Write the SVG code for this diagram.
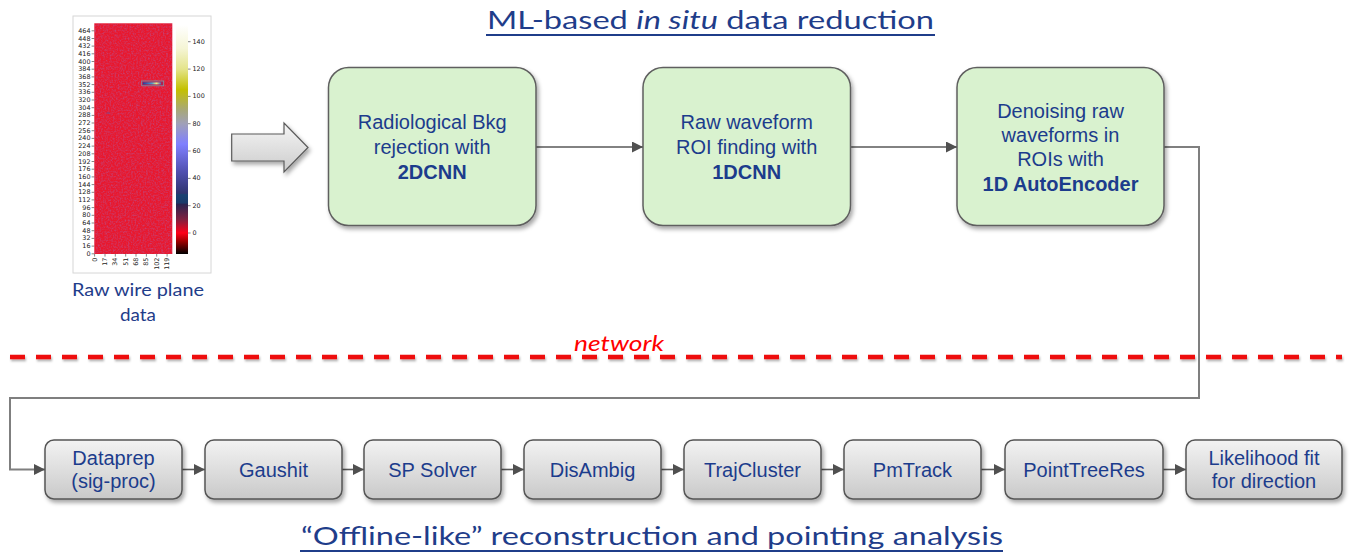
<svg xmlns="http://www.w3.org/2000/svg" width="1351" height="560" viewBox="0 0 1351 560">
<style>
.title{font-family:Lato,"Liberation Sans",sans-serif;font-size:25.5px;fill:#1f3d8a}
.lbl{font-family:Lato,"Liberation Sans",sans-serif;font-size:18px;fill:#1f3d8a}
.bt{font-family:"Liberation Sans",Arial,sans-serif;font-size:20px;fill:#1c3c8c;text-anchor:middle}
.bold{font-weight:bold}
.green{fill:#d9f2cf;stroke:#5f5f5f;stroke-width:1.5}
.grey{fill:url(#gg);stroke:#555;stroke-width:1.5}
.conn{fill:none;stroke:#595959;stroke-width:1.6}
.loop{fill:none;stroke:#7f7f7f;stroke-width:2}
.ax{font-family:"DejaVu Sans",sans-serif;font-size:6.4px;fill:#222;dominant-baseline:central}
.tick{stroke:#333;stroke-width:0.6;fill:none}
</style>
<defs>
<linearGradient id="gg" x1="0" y1="0" x2="0" y2="1">
<stop offset="0" stop-color="#f3f3f3"/><stop offset="1" stop-color="#c9c9c9"/>
</linearGradient>
<linearGradient id="ag" x1="0" y1="0" x2="0" y2="1">
<stop offset="0" stop-color="#f5f5f5"/><stop offset="1" stop-color="#cccccc"/>
</linearGradient>
<linearGradient id="cb" x1="0" y1="0" x2="0" y2="1">
<stop offset="0" stop-color="#ffffff"/>
<stop offset="0.103" stop-color="#f5f5d5"/>
<stop offset="0.193" stop-color="#e4e48a"/>
<stop offset="0.282" stop-color="#c4c000"/>
<stop offset="0.371" stop-color="#a8a878"/>
<stop offset="0.431" stop-color="#a0a0b8"/>
<stop offset="0.52" stop-color="#8080ff"/>
<stop offset="0.64" stop-color="#5050b0"/>
<stop offset="0.735" stop-color="#303570"/>
<stop offset="0.741" stop-color="#1a4272"/>
<stop offset="0.777" stop-color="#1a3a6a"/>
<stop offset="0.783" stop-color="#2a2450"/>
<stop offset="0.849" stop-color="#802040"/>
<stop offset="0.908" stop-color="#ff0018"/>
<stop offset="0.944" stop-color="#a00000"/>
<stop offset="1" stop-color="#000000"/>
</linearGradient>
<linearGradient id="streak" x1="0" y1="0" x2="1" y2="0">
<stop offset="0" stop-color="#2a3a9a"/><stop offset="0.5" stop-color="#4aa0d0"/><stop offset="0.75" stop-color="#f0f080"/><stop offset="1" stop-color="#4a60c0"/>
</linearGradient>
<filter id="noise" x="0" y="0" width="100%" height="100%">
<feTurbulence type="fractalNoise" baseFrequency="0.6" numOctaves="2" seed="4" result="t"/>
<feColorMatrix in="t" type="matrix" values="0 0 0 0 0.35  0 0 0 0 0.15  0 0 0 0 0.5  0 0 0 1.0 -0.4"/>
<feComposite in2="SourceGraphic" operator="in"/>
</filter>
<filter id="sh" x="-10%" y="-10%" width="130%" height="140%">
<feDropShadow dx="2" dy="3" stdDeviation="2" flood-color="#000" flood-opacity="0.35"/>
</filter>
<filter id="sh2" filterUnits="userSpaceOnUse" x="0" y="345" width="1351" height="25">
<feDropShadow dx="1" dy="2" stdDeviation="1.2" flood-color="#000" flood-opacity="0.3"/>
</filter>
<marker id="ah" viewBox="0 0 10 10" refX="10" refY="5" markerWidth="11" markerHeight="11" markerUnits="userSpaceOnUse" orient="auto">
<path d="M0,0 L10,5 L0,10 Z" fill="#505050"/>
</marker>
</defs>
<rect width="1351" height="560" fill="#ffffff"/>

<!-- titles -->
<text class="title" x="487" y="28.5" textLength="447" lengthAdjust="spacingAndGlyphs">ML-based <tspan font-style="italic">in situ</tspan> data reduction</text>
<line x1="486" y1="35" x2="935" y2="35" stroke="#1f3d8a" stroke-width="2"/>
<text class="title" x="301" y="545" textLength="702" lengthAdjust="spacingAndGlyphs">“Offline-like” reconstruction and pointing analysis</text>
<line x1="300" y1="551" x2="1003" y2="551" stroke="#1f3d8a" stroke-width="2"/>

<!-- heatmap figure -->
<g id="heatmap">
<rect x="73" y="16" width="138" height="257" fill="#ffffff" stroke="#d6d6d6" stroke-width="1"/>
<rect x="94.3" y="23.3" width="78" height="230.7" fill="#e8182e"/>
<rect x="94.3" y="23.3" width="78" height="230.7" fill="#fff" filter="url(#noise)"/>
<rect x="141.7" y="81" width="22" height="4.8" fill="#b02050" stroke="#7a9aa8" stroke-width="0.8"/>
<rect x="143" y="82.4" width="18" height="2" fill="url(#streak)"/>
<line x1="106.5" y1="113" x2="110" y2="113" stroke="#6050a0" stroke-width="0.8"/>
<rect x="176" y="25" width="12" height="229" fill="url(#cb)"/>
<path class="tick" d="M91.6,30.8H94.3M91.6,38.5H94.3M91.6,46.1H94.3M91.6,53.8H94.3M91.6,61.5H94.3M91.6,69.2H94.3M91.6,76.9H94.3M91.6,84.6H94.3M91.6,92.3H94.3M91.6,100H94.3M91.6,107.7H94.3M91.6,115.4H94.3M91.6,123H94.3M91.6,130.7H94.3M91.6,138.4H94.3M91.6,146.1H94.3M91.6,153.8H94.3M91.6,161.5H94.3M91.6,169.2H94.3M91.6,176.9H94.3M91.6,184.6H94.3M91.6,192.3H94.3M91.6,199.9H94.3M91.6,207.6H94.3M91.6,215.3H94.3M91.6,223H94.3M91.6,230.7H94.3M91.6,238.4H94.3M91.6,246.1H94.3M91.6,253.8H94.3"/>
<g class="ax" text-anchor="end">
<text x="90.5" y="30.8">464</text><text x="90.5" y="38.5">448</text><text x="90.5" y="46.1">432</text><text x="90.5" y="53.8">416</text><text x="90.5" y="61.5">400</text><text x="90.5" y="69.2">384</text><text x="90.5" y="76.9">368</text><text x="90.5" y="84.6">352</text><text x="90.5" y="92.3">336</text><text x="90.5" y="100">320</text><text x="90.5" y="107.7">304</text><text x="90.5" y="115.4">288</text><text x="90.5" y="123">272</text><text x="90.5" y="130.7">256</text><text x="90.5" y="138.4">240</text><text x="90.5" y="146.1">224</text><text x="90.5" y="153.8">208</text><text x="90.5" y="161.5">192</text><text x="90.5" y="169.2">176</text><text x="90.5" y="176.9">160</text><text x="90.5" y="184.6">144</text><text x="90.5" y="192.3">128</text><text x="90.5" y="199.9">112</text><text x="90.5" y="207.6">96</text><text x="90.5" y="215.3">80</text><text x="90.5" y="223">64</text><text x="90.5" y="230.7">48</text><text x="90.5" y="238.4">32</text><text x="90.5" y="246.1">16</text><text x="90.5" y="253.8">0</text>
</g>
<path class="tick" d="M94.6,254V256.6M105,254V256.6M115.3,254V256.6M125.7,254V256.6M136,254V256.6M146.4,254V256.6M156.7,254V256.6M167.1,254V256.6"/>
<g class="ax" text-anchor="end">
<text transform="translate(94.6,257.6) rotate(-90)">0</text>
<text transform="translate(105,257.6) rotate(-90)">17</text>
<text transform="translate(115.3,257.6) rotate(-90)">34</text>
<text transform="translate(125.7,257.6) rotate(-90)">51</text>
<text transform="translate(136,257.6) rotate(-90)">68</text>
<text transform="translate(146.4,257.6) rotate(-90)">85</text>
<text transform="translate(156.7,257.6) rotate(-90)">102</text>
<text transform="translate(167.1,257.6) rotate(-90)">119</text>
</g>
<path class="tick" d="M188,41.7H190.6M188,69.1H190.6M188,96.4H190.6M188,123.7H190.6M188,151H190.6M188,178.4H190.6M188,205.7H190.6M188,233H190.6"/>
<g class="ax" text-anchor="start">
<text x="192.5" y="41.7">140</text><text x="192.5" y="69.1">120</text><text x="192.5" y="96.4">100</text><text x="192.5" y="123.7">80</text><text x="192.5" y="151">60</text><text x="192.5" y="178.4">40</text><text x="192.5" y="205.7">20</text><text x="192.5" y="233">0</text>
</g>
<text class="lbl" x="138" y="296" text-anchor="middle" textLength="132" lengthAdjust="spacingAndGlyphs">Raw wire plane</text>
<text class="lbl" x="138" y="321" text-anchor="middle" textLength="36" lengthAdjust="spacingAndGlyphs">data</text>
</g>

<g id="block-arrow">
<polygon points="231.7,134 284,134 284,123 308,147.5 284,172 284,161 231.7,161" fill="url(#ag)" stroke="#5a5a5a" stroke-width="1.2" filter="url(#sh)"/>
</g>

<!-- connectors -->
<g id="connectors">
<line class="conn" x1="536" y1="147" x2="643" y2="147" marker-end="url(#ah)"/>
<line class="conn" x1="850" y1="147" x2="957" y2="147" marker-end="url(#ah)"/>
<path class="loop" d="M1164,147 H1199 V398 H10 V469.5 H45" marker-end="url(#ah)"/>
<line class="conn" stroke-width="2" x1="182" y1="469.5" x2="205" y2="469.5" marker-end="url(#ah)"/>
<line class="conn" stroke-width="2" x1="342" y1="469.5" x2="364" y2="469.5" marker-end="url(#ah)"/>
<line class="conn" stroke-width="2" x1="501" y1="469.5" x2="524" y2="469.5" marker-end="url(#ah)"/>
<line class="conn" stroke-width="2" x1="661" y1="469.5" x2="684" y2="469.5" marker-end="url(#ah)"/>
<line class="conn" stroke-width="2" x1="821" y1="469.5" x2="844" y2="469.5" marker-end="url(#ah)"/>
<line class="conn" stroke-width="2" x1="981" y1="469.5" x2="1005" y2="469.5" marker-end="url(#ah)"/>
<line class="conn" stroke-width="2" x1="1163" y1="469.5" x2="1186" y2="469.5" marker-end="url(#ah)"/>
</g>

<!-- network separator -->
<g id="network">
<line x1="10" y1="357" x2="1342" y2="357" stroke="#ee1111" stroke-width="4.5" stroke-dasharray="15 11" filter="url(#sh2)"/>
<text x="574" y="351" font-family="Lato,'Liberation Sans',sans-serif" font-style="italic" font-size="20.5" fill="#ff0000" textLength="90" lengthAdjust="spacingAndGlyphs">network</text>
</g>

<!-- top nodes -->
<g id="n-radbkg">
<rect class="green" x="328.5" y="67.5" width="207.5" height="158" rx="20" filter="url(#sh)"/>
<text class="bt" x="432.2" y="129">Radiological Bkg</text>
<text class="bt" x="432.2" y="154">rejection with</text>
<text class="bt bold" x="432.2" y="179">2DCNN</text>
</g>
<g id="n-roi">
<rect class="green" x="643" y="67.5" width="207.5" height="158" rx="20" filter="url(#sh)"/>
<text class="bt" x="746.7" y="129">Raw waveform</text>
<text class="bt" x="746.7" y="154">ROI finding with</text>
<text class="bt bold" x="746.7" y="179">1DCNN</text>
</g>
<g id="n-denoise">
<rect class="green" x="957" y="67.5" width="207" height="158" rx="20" filter="url(#sh)"/>
<text class="bt" x="1060.5" y="117.5">Denoising raw</text>
<text class="bt" x="1060.5" y="142">waveforms in</text>
<text class="bt" x="1060.5" y="166">ROIs with</text>
<text class="bt bold" x="1060.5" y="190.5">1D AutoEncoder</text>
</g>

<!-- bottom nodes -->
<g id="n-dataprep">
<rect class="grey" x="45" y="440" width="137" height="59" rx="9" filter="url(#sh)"/>
<text class="bt" x="113.5" y="465">Dataprep</text>
<text class="bt" x="113.5" y="488">(sig-proc)</text>
</g>
<g id="n-gaushit">
<rect class="grey" x="205" y="440" width="137" height="59" rx="9" filter="url(#sh)"/>
<text class="bt" x="273.5" y="477">Gaushit</text>
</g>
<g id="n-spsolver">
<rect class="grey" x="364" y="440" width="137" height="59" rx="9" filter="url(#sh)"/>
<text class="bt" x="432.5" y="477">SP Solver</text>
</g>
<g id="n-disambig">
<rect class="grey" x="524" y="440" width="137" height="59" rx="9" filter="url(#sh)"/>
<text class="bt" x="592.5" y="477">DisAmbig</text>
</g>
<g id="n-trajcluster">
<rect class="grey" x="684" y="440" width="137" height="59" rx="9" filter="url(#sh)"/>
<text class="bt" x="752.5" y="477">TrajCluster</text>
</g>
<g id="n-pmtrack">
<rect class="grey" x="844" y="440" width="137" height="59" rx="9" filter="url(#sh)"/>
<text class="bt" x="912.5" y="477">PmTrack</text>
</g>
<g id="n-pointtreeres">
<rect class="grey" x="1005" y="440" width="158" height="59" rx="9" filter="url(#sh)"/>
<text class="bt" x="1084" y="477">PointTreeRes</text>
</g>
<g id="n-likelihood">
<rect class="grey" x="1186" y="440" width="156" height="59" rx="9" filter="url(#sh)"/>
<text class="bt" x="1264" y="465">Likelihood fit</text>
<text class="bt" x="1264" y="488">for direction</text>
</g>
</svg>
